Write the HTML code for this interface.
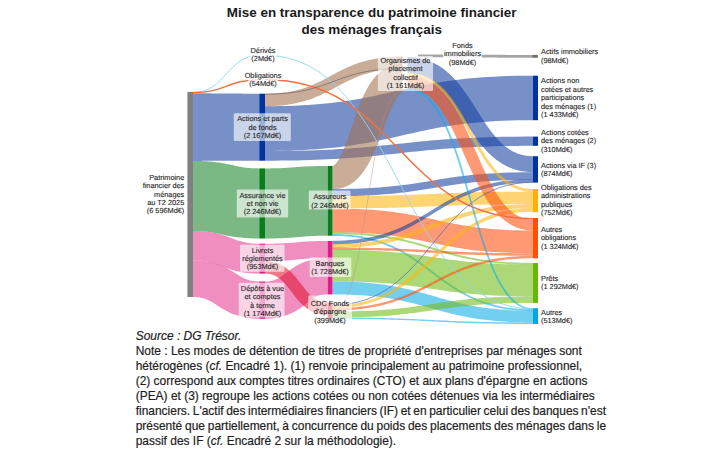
<!DOCTYPE html><html><head><meta charset="utf-8"><style>
html,body{margin:0;padding:0;background:#fff;width:727px;height:454px;overflow:hidden}
body{position:relative;font-family:"Liberation Sans",sans-serif}
.t{position:absolute;left:0;top:0;width:727px;text-align:center;font-weight:bold;font-size:13.45px;color:#1a1a1a;line-height:16.9px}
.note{position:absolute;left:135.7px;top:0;font-size:11.96px;line-height:15px;color:#1e1e1e;white-space:nowrap;-webkit-text-stroke:0.2px #1e1e1e}
svg{position:absolute;left:0;top:0}
svg text{text-rendering:geometricPrecision}
</style></head><body>
<svg width="727" height="454" viewBox="0 0 727 454">
<path d="M193.00,160.90 L195.05,160.89 L197.01,160.89 L198.89,160.88 L200.70,160.88 L202.43,160.87 L204.09,160.87 L205.69,160.86 L207.23,160.86 L208.71,160.85 L210.13,160.85 L211.50,160.84 L212.83,160.84 L214.11,160.84 L215.35,160.83 L216.56,160.83 L217.73,160.83 L218.88,160.82 L220.00,160.82 L221.10,160.82 L222.18,160.81 L223.25,160.81 L224.30,160.81 L225.35,160.80 L226.40,160.80 L227.45,160.80 L228.50,160.79 L229.56,160.79 L230.63,160.79 L231.72,160.78 L232.82,160.78 L233.95,160.78 L235.10,160.77 L236.29,160.77 L237.50,160.77 L238.76,160.76 L240.05,160.76 L241.39,160.76 L242.77,160.75 L244.20,160.75 L245.69,160.74 L247.24,160.74 L248.85,160.73 L250.52,160.73 L252.27,160.72 L254.08,160.72 L255.97,160.71 L257.95,160.71 L260.00,160.70 L260.00,93.70 L257.95,93.69 L255.99,93.69 L254.11,93.68 L252.30,93.67 L250.57,93.67 L248.90,93.66 L247.31,93.65 L245.77,93.64 L244.29,93.63 L242.87,93.63 L241.50,93.62 L240.17,93.61 L238.89,93.60 L237.65,93.59 L236.44,93.58 L235.27,93.57 L234.12,93.57 L233.00,93.56 L231.90,93.55 L230.82,93.54 L229.75,93.53 L228.70,93.52 L227.65,93.51 L226.60,93.50 L225.55,93.49 L224.50,93.48 L223.44,93.47 L222.37,93.46 L221.28,93.45 L220.18,93.44 L219.05,93.44 L217.90,93.43 L216.71,93.42 L215.50,93.41 L214.24,93.40 L212.95,93.39 L211.61,93.38 L210.23,93.37 L208.80,93.37 L207.31,93.36 L205.76,93.35 L204.15,93.34 L202.48,93.33 L200.73,93.33 L198.92,93.32 L197.03,93.31 L195.06,93.31 L193.00,93.30Z" fill="#143fa0" fill-opacity="0.58"/>
<path d="M193.00,230.90 L194.72,230.91 L196.33,230.93 L197.86,230.97 L199.29,231.02 L200.65,231.09 L201.92,231.16 L203.12,231.24 L204.25,231.34 L205.31,231.44 L206.32,231.54 L207.28,231.66 L208.20,231.78 L209.08,231.90 L209.94,232.03 L210.77,232.17 L211.60,232.32 L212.43,232.47 L213.26,232.64 L214.10,232.81 L214.97,232.99 L215.87,233.19 L216.80,233.39 L217.78,233.61 L218.80,233.84 L219.87,234.09 L221.00,234.34 L222.18,234.60 L223.42,234.87 L224.72,235.14 L226.08,235.42 L227.50,235.70 L228.97,235.97 L230.50,236.24 L232.08,236.50 L233.72,236.75 L235.41,236.99 L237.16,237.22 L238.96,237.43 L240.80,237.62 L242.71,237.80 L244.66,237.96 L246.67,238.10 L248.74,238.22 L250.86,238.32 L253.05,238.40 L255.30,238.45 L257.61,238.49 L260.00,238.50 L260.00,168.40 L258.29,168.39 L256.67,168.37 L255.14,168.33 L253.71,168.28 L252.36,168.22 L251.08,168.15 L249.89,168.07 L248.76,167.98 L247.69,167.88 L246.68,167.78 L245.72,167.67 L244.80,167.55 L243.92,167.43 L243.07,167.30 L242.23,167.16 L241.40,167.02 L240.58,166.86 L239.74,166.70 L238.90,166.53 L238.03,166.35 L237.13,166.16 L236.20,165.95 L235.22,165.74 L234.20,165.51 L233.13,165.27 L232.00,165.02 L230.82,164.76 L229.58,164.49 L228.28,164.22 L226.92,163.94 L225.50,163.67 L224.03,163.40 L222.50,163.13 L220.91,162.87 L219.27,162.62 L217.58,162.38 L215.84,162.16 L214.04,161.95 L212.19,161.76 L210.29,161.58 L208.34,161.43 L206.33,161.29 L204.26,161.17 L202.14,161.07 L199.95,161.00 L197.70,160.94 L195.39,160.91 L193.00,160.90Z" fill="#19842b" fill-opacity="0.58"/>
<path d="M193.00,260.50 L194.81,260.52 L196.52,260.56 L198.15,260.64 L199.69,260.73 L201.14,260.85 L202.53,260.99 L203.84,261.15 L205.09,261.32 L206.28,261.51 L207.41,261.72 L208.49,261.94 L209.54,262.18 L210.55,262.42 L211.53,262.68 L212.48,262.96 L213.43,263.24 L214.36,263.54 L215.29,263.86 L216.23,264.19 L217.17,264.53 L218.13,264.89 L219.10,265.26 L220.11,265.65 L221.14,266.05 L222.20,266.46 L223.30,266.89 L224.43,267.32 L225.61,267.76 L226.84,268.20 L228.10,268.65 L229.42,269.09 L230.78,269.53 L232.20,269.96 L233.66,270.37 L235.17,270.77 L236.74,271.15 L238.36,271.52 L240.03,271.85 L241.76,272.17 L243.54,272.45 L245.37,272.71 L247.27,272.94 L249.23,273.13 L251.25,273.30 L253.33,273.43 L255.48,273.52 L257.70,273.58 L260.00,273.60 L260.00,243.70 L258.19,243.69 L256.48,243.65 L254.86,243.58 L253.32,243.49 L251.87,243.38 L250.48,243.25 L249.17,243.10 L247.93,242.93 L246.74,242.74 L245.61,242.54 L244.52,242.33 L243.48,242.10 L242.47,241.86 L241.49,241.60 L240.53,241.34 L239.59,241.06 L238.65,240.76 L237.72,240.46 L236.78,240.13 L235.84,239.80 L234.88,239.44 L233.90,239.08 L232.90,238.70 L231.86,238.30 L230.80,237.89 L229.70,237.47 L228.56,237.05 L227.38,236.61 L226.15,236.18 L224.88,235.74 L223.57,235.30 L222.20,234.87 L220.79,234.45 L219.32,234.04 L217.81,233.65 L216.24,233.27 L214.62,232.91 L212.95,232.58 L211.23,232.28 L209.45,232.00 L207.61,231.74 L205.72,231.52 L203.76,231.33 L201.75,231.18 L199.66,231.06 L197.51,230.97 L195.29,230.92 L193.00,230.90Z" fill="#e63c93" fill-opacity="0.58"/>
<path d="M193.00,297.00 L194.55,297.03 L196.01,297.10 L197.36,297.20 L198.62,297.33 L199.80,297.50 L200.90,297.68 L201.93,297.89 L202.90,298.12 L203.81,298.37 L204.68,298.64 L205.52,298.92 L206.32,299.23 L207.11,299.55 L207.89,299.90 L208.67,300.27 L209.45,300.67 L210.24,301.09 L211.05,301.55 L211.89,302.04 L212.75,302.56 L213.64,303.12 L214.58,303.71 L215.55,304.34 L216.57,305.00 L217.64,305.69 L218.76,306.41 L219.93,307.15 L221.17,307.92 L222.46,308.70 L223.83,309.50 L225.26,310.29 L226.76,311.09 L228.33,311.88 L229.97,312.65 L231.69,313.40 L233.47,314.13 L235.33,314.82 L237.25,315.46 L239.24,316.06 L241.30,316.61 L243.42,317.11 L245.60,317.54 L247.85,317.91 L250.15,318.22 L252.52,318.47 L254.95,318.65 L257.44,318.76 L260.00,318.80 L260.00,281.50 L258.46,281.49 L257.01,281.44 L255.67,281.35 L254.41,281.23 L253.24,281.09 L252.15,280.92 L251.13,280.73 L250.17,280.52 L249.25,280.29 L248.39,280.04 L247.56,279.77 L246.75,279.48 L245.96,279.18 L245.18,278.85 L244.40,278.49 L243.61,278.11 L242.81,277.70 L242.00,277.26 L241.16,276.79 L240.29,276.28 L239.38,275.74 L238.44,275.16 L237.46,274.55 L236.43,273.90 L235.36,273.22 L234.23,272.52 L233.04,271.79 L231.80,271.04 L230.49,270.27 L229.12,269.49 L227.69,268.71 L226.18,267.93 L224.61,267.16 L222.96,266.40 L221.24,265.66 L219.46,264.96 L217.60,264.29 L215.68,263.66 L213.69,263.08 L211.64,262.55 L209.52,262.07 L207.35,261.66 L205.11,261.30 L202.81,261.01 L200.45,260.78 L198.03,260.62 L195.55,260.53 L193.00,260.50Z" fill="#e63c93" fill-opacity="0.58"/>
<path d="M265.00,106.20 L269.35,106.15 L273.54,106.00 L277.57,105.77 L281.44,105.44 L285.17,105.03 L288.76,104.53 L292.22,103.96 L295.56,103.31 L298.77,102.60 L301.87,101.82 L304.86,100.98 L307.75,100.08 L310.54,99.14 L313.25,98.14 L315.87,97.11 L318.41,96.04 L320.88,94.94 L323.28,93.82 L325.63,92.68 L327.92,91.52 L330.17,90.35 L332.39,89.18 L334.57,88.01 L336.72,86.85 L338.87,85.69 L341.00,84.54 L343.13,83.42 L345.27,82.31 L347.43,81.22 L349.60,80.16 L351.81,79.13 L354.06,78.13 L356.35,77.17 L358.70,76.24 L361.12,75.35 L363.61,74.51 L366.18,73.71 L368.85,72.96 L371.61,72.26 L374.49,71.62 L377.49,71.04 L380.61,70.53 L383.87,70.08 L387.27,69.70 L390.83,69.40 L394.55,69.18 L398.44,69.05 L402.50,69.00 L402.50,56.50 L398.15,56.55 L393.96,56.70 L389.93,56.93 L386.06,57.26 L382.33,57.67 L378.74,58.17 L375.28,58.74 L371.94,59.39 L368.73,60.10 L365.63,60.88 L362.64,61.72 L359.75,62.62 L356.96,63.56 L354.25,64.56 L351.63,65.59 L349.09,66.66 L346.62,67.76 L344.22,68.88 L341.87,70.02 L339.58,71.18 L337.33,72.35 L335.11,73.52 L332.93,74.69 L330.78,75.85 L328.63,77.01 L326.50,78.16 L324.37,79.28 L322.23,80.39 L320.07,81.48 L317.90,82.54 L315.69,83.57 L313.44,84.57 L311.15,85.53 L308.80,86.46 L306.38,87.35 L303.89,88.19 L301.32,88.99 L298.65,89.74 L295.89,90.44 L293.01,91.08 L290.01,91.66 L286.89,92.17 L283.63,92.62 L280.23,93.00 L276.67,93.30 L272.95,93.52 L269.06,93.65 L265.00,93.70Z" fill="#a3714f" fill-opacity="0.58"/>
<path d="M265.00,151.00 L273.42,150.96 L281.52,150.83 L289.30,150.64 L296.79,150.37 L303.99,150.03 L310.92,149.62 L317.60,149.15 L324.03,148.62 L330.24,148.03 L336.23,147.39 L342.01,146.70 L347.60,145.97 L353.01,145.19 L358.26,144.37 L363.34,143.52 L368.28,142.64 L373.09,141.73 L377.77,140.80 L382.34,139.86 L386.82,138.90 L391.21,137.94 L395.52,136.97 L399.77,136.00 L403.98,135.04 L408.15,134.08 L412.31,133.14 L416.46,132.20 L420.62,131.29 L424.82,130.39 L429.06,129.51 L433.37,128.66 L437.75,127.83 L442.24,127.03 L446.84,126.26 L451.58,125.52 L456.47,124.82 L461.52,124.15 L466.77,123.53 L472.21,122.95 L477.88,122.41 L483.78,121.92 L489.93,121.49 L496.35,121.11 L503.05,120.80 L510.06,120.54 L517.37,120.36 L525.01,120.24 L533.00,120.20 L533.00,75.70 L524.58,75.74 L516.49,75.85 L508.70,76.05 L501.22,76.31 L494.02,76.64 L487.08,77.04 L480.41,77.51 L473.97,78.03 L467.77,78.61 L461.78,79.25 L456.00,79.93 L450.41,80.66 L445.00,81.43 L439.75,82.24 L434.67,83.09 L429.73,83.96 L424.92,84.86 L420.24,85.78 L415.66,86.72 L411.19,87.67 L406.80,88.63 L402.48,89.59 L398.23,90.55 L394.02,91.51 L389.85,92.46 L385.69,93.40 L381.54,94.33 L377.37,95.24 L373.17,96.13 L368.93,97.00 L364.62,97.85 L360.24,98.67 L355.75,99.46 L351.15,100.23 L346.41,100.96 L341.52,101.66 L336.47,102.32 L331.22,102.94 L325.78,103.51 L320.11,104.04 L314.21,104.52 L308.06,104.95 L301.64,105.32 L294.94,105.63 L287.94,105.88 L280.63,106.06 L272.99,106.16 L265.00,106.20Z" fill="#143fa0" fill-opacity="0.58"/>
<path d="M265.00,160.70 L273.23,160.68 L281.12,160.62 L288.69,160.52 L295.96,160.39 L302.94,160.23 L309.64,160.04 L316.08,159.82 L322.28,159.57 L328.24,159.30 L333.98,159.00 L339.52,158.68 L344.88,158.34 L350.05,157.98 L355.07,157.60 L359.94,157.21 L364.67,156.80 L369.29,156.38 L373.81,155.95 L378.23,155.51 L382.58,155.06 L386.87,154.61 L391.11,154.15 L395.32,153.68 L399.51,153.22 L403.70,152.76 L407.90,152.30 L412.12,151.84 L416.39,151.39 L420.71,150.94 L425.10,150.51 L429.57,150.08 L434.15,149.66 L438.84,149.26 L443.66,148.87 L448.62,148.50 L453.74,148.14 L459.04,147.80 L464.52,147.49 L470.21,147.19 L476.12,146.92 L482.26,146.68 L488.65,146.46 L495.30,146.27 L502.23,146.11 L509.45,145.98 L516.97,145.88 L524.82,145.82 L533.00,145.80 L533.00,136.60 L524.78,136.61 L516.88,136.66 L509.31,136.75 L502.05,136.87 L495.07,137.02 L488.37,137.20 L481.93,137.41 L475.73,137.65 L469.77,137.91 L464.02,138.20 L458.48,138.51 L453.13,138.84 L447.96,139.19 L442.94,139.55 L438.07,139.94 L433.33,140.33 L428.71,140.74 L424.20,141.16 L419.77,141.59 L415.42,142.03 L411.13,142.48 L406.89,142.92 L402.68,143.38 L398.49,143.83 L394.30,144.28 L390.10,144.73 L385.87,145.18 L381.61,145.62 L377.29,146.05 L372.89,146.48 L368.42,146.90 L363.84,147.30 L359.15,147.70 L354.34,148.08 L349.37,148.44 L344.25,148.78 L338.95,149.11 L333.47,149.42 L327.78,149.70 L321.87,149.96 L315.73,150.20 L309.34,150.40 L302.69,150.58 L295.77,150.73 L288.55,150.85 L281.03,150.94 L273.18,150.99 L265.00,151.00Z" fill="#143fa0" fill-opacity="0.58"/>
<path d="M265.00,238.50 L267.04,238.49 L269.01,238.48 L270.91,238.46 L272.74,238.43 L274.51,238.39 L276.22,238.35 L277.87,238.31 L279.47,238.26 L281.01,238.20 L282.51,238.14 L283.95,238.07 L285.35,238.00 L286.71,237.93 L288.03,237.85 L289.30,237.77 L290.54,237.68 L291.74,237.60 L292.90,237.51 L294.03,237.42 L295.13,237.33 L296.20,237.24 L297.24,237.15 L298.25,237.07 L299.24,236.98 L300.21,236.90 L301.16,236.81 L302.10,236.73 L303.04,236.65 L303.97,236.58 L304.90,236.50 L305.84,236.43 L306.79,236.36 L307.76,236.30 L308.75,236.23 L309.77,236.17 L310.82,236.11 L311.91,236.06 L313.04,236.00 L314.23,235.95 L315.46,235.91 L316.75,235.87 L318.10,235.83 L319.52,235.79 L321.00,235.76 L322.56,235.74 L324.19,235.72 L325.90,235.71 L327.70,235.70 L327.70,166.00 L325.66,166.00 L323.69,166.01 L321.79,166.02 L319.96,166.04 L318.19,166.06 L316.48,166.10 L314.83,166.13 L313.24,166.18 L311.69,166.23 L310.20,166.28 L308.75,166.34 L307.35,166.40 L305.99,166.47 L304.68,166.54 L303.40,166.61 L302.17,166.68 L300.97,166.76 L299.80,166.84 L298.67,166.92 L297.57,167.00 L296.51,167.08 L295.47,167.16 L294.45,167.24 L293.46,167.32 L292.49,167.40 L291.54,167.47 L290.59,167.54 L289.66,167.61 L288.73,167.68 L287.80,167.75 L286.86,167.81 L285.91,167.87 L284.94,167.93 L283.95,167.98 L282.93,168.04 L281.87,168.09 L280.78,168.13 L279.65,168.18 L278.47,168.22 L277.24,168.26 L275.95,168.29 L274.60,168.32 L273.18,168.35 L271.70,168.37 L270.14,168.39 L268.51,168.40 L266.80,168.40 L265.00,168.40Z" fill="#19842b" fill-opacity="0.58"/>
<path d="M265.00,261.20 L266.95,261.19 L268.83,261.17 L270.64,261.15 L272.37,261.12 L274.04,261.08 L275.64,261.04 L277.18,260.99 L278.67,260.93 L280.10,260.87 L281.48,260.81 L282.81,260.74 L284.10,260.66 L285.35,260.58 L286.56,260.50 L287.73,260.42 L288.87,260.33 L289.98,260.24 L291.07,260.14 L292.12,260.05 L293.16,259.95 L294.18,259.86 L295.18,259.76 L296.18,259.66 L297.16,259.56 L298.14,259.47 L299.11,259.37 L300.09,259.27 L301.07,259.18 L302.06,259.09 L303.06,259.00 L304.08,258.91 L305.12,258.82 L306.19,258.74 L307.28,258.66 L308.41,258.58 L309.57,258.51 L310.77,258.44 L312.02,258.37 L313.31,258.31 L314.66,258.25 L316.06,258.20 L317.52,258.16 L319.04,258.11 L320.62,258.08 L322.28,258.05 L324.01,258.03 L325.81,258.01 L327.70,258.00 L327.70,241.00 L325.75,241.00 L323.87,241.00 L322.07,241.02 L320.33,241.04 L318.67,241.07 L317.07,241.10 L315.52,241.14 L314.04,241.18 L312.61,241.23 L311.23,241.29 L309.89,241.35 L308.60,241.41 L307.36,241.48 L306.15,241.55 L304.97,241.63 L303.83,241.71 L302.72,241.79 L301.64,241.87 L300.58,241.95 L299.54,242.04 L298.52,242.13 L297.52,242.21 L296.53,242.30 L295.54,242.39 L294.56,242.47 L293.59,242.56 L292.61,242.65 L291.63,242.73 L290.64,242.81 L289.63,242.89 L288.61,242.97 L287.57,243.04 L286.51,243.12 L285.41,243.19 L284.29,243.25 L283.12,243.32 L281.92,243.37 L280.68,243.43 L279.38,243.48 L278.04,243.53 L276.64,243.57 L275.18,243.61 L273.66,243.64 L272.07,243.66 L270.42,243.68 L268.69,243.70 L266.88,243.70 L265.00,243.70Z" fill="#e63c93" fill-opacity="0.58"/>
<path d="M265.00,318.80 L267.52,318.75 L269.99,318.62 L272.40,318.41 L274.76,318.12 L277.06,317.75 L279.30,317.30 L281.48,316.79 L283.59,316.20 L285.63,315.55 L287.61,314.83 L289.51,314.07 L291.34,313.26 L293.09,312.41 L294.76,311.54 L296.35,310.64 L297.87,309.73 L299.31,308.81 L300.68,307.90 L301.98,306.99 L303.21,306.11 L304.38,305.24 L305.48,304.40 L306.54,303.59 L307.54,302.82 L308.49,302.08 L309.39,301.38 L310.25,300.73 L311.08,300.11 L311.86,299.54 L312.62,299.01 L313.34,298.52 L314.05,298.07 L314.73,297.65 L315.40,297.27 L316.06,296.91 L316.72,296.59 L317.38,296.29 L318.06,296.01 L318.76,295.75 L319.50,295.51 L320.28,295.29 L321.11,295.08 L322.00,294.90 L322.97,294.74 L324.01,294.60 L325.15,294.50 L326.37,294.43 L327.70,294.40 L327.70,258.00 L325.19,258.03 L322.73,258.14 L320.33,258.33 L317.99,258.60 L315.70,258.95 L313.47,259.38 L311.30,259.87 L309.20,260.44 L307.15,261.07 L305.18,261.76 L303.28,262.51 L301.46,263.30 L299.70,264.12 L298.03,264.98 L296.43,265.86 L294.91,266.75 L293.46,267.65 L292.08,268.55 L290.78,269.43 L289.54,270.31 L288.36,271.16 L287.24,271.98 L286.18,272.77 L285.16,273.53 L284.20,274.26 L283.29,274.94 L282.41,275.58 L281.58,276.18 L280.78,276.73 L280.02,277.25 L279.28,277.72 L278.57,278.16 L277.89,278.55 L277.21,278.92 L276.55,279.25 L275.89,279.56 L275.23,279.84 L274.55,280.10 L273.85,280.33 L273.12,280.55 L272.34,280.76 L271.52,280.94 L270.64,281.10 L269.68,281.24 L268.65,281.35 L267.53,281.44 L266.31,281.49 L265.00,281.50Z" fill="#e63c93" fill-opacity="0.58"/>
<path d="M265.00,273.60 L266.57,273.64 L268.06,273.77 L269.46,273.97 L270.79,274.24 L272.05,274.59 L273.26,274.99 L274.43,275.46 L275.55,275.99 L276.64,276.58 L277.71,277.23 L278.75,277.95 L279.77,278.72 L280.78,279.55 L281.77,280.44 L282.75,281.38 L283.72,282.37 L284.69,283.42 L285.65,284.51 L286.61,285.64 L287.56,286.82 L288.51,288.02 L289.47,289.26 L290.44,290.52 L291.41,291.80 L292.40,293.10 L293.40,294.41 L294.42,295.72 L295.47,297.05 L296.54,298.36 L297.65,299.68 L298.79,300.98 L299.98,302.26 L301.21,303.52 L302.50,304.75 L303.84,305.95 L305.24,307.11 L306.71,308.22 L308.25,309.27 L309.86,310.26 L311.54,311.17 L313.31,312.00 L315.15,312.74 L317.06,313.38 L319.05,313.92 L321.11,314.34 L323.24,314.65 L325.43,314.84 L327.70,314.90 L327.70,302.50 L326.13,302.46 L324.64,302.33 L323.24,302.13 L321.91,301.86 L320.65,301.51 L319.44,301.11 L318.27,300.64 L317.15,300.11 L316.06,299.52 L314.99,298.87 L313.95,298.15 L312.93,297.38 L311.92,296.55 L310.93,295.66 L309.95,294.72 L308.98,293.73 L308.01,292.68 L307.05,291.59 L306.09,290.46 L305.14,289.28 L304.19,288.08 L303.23,286.84 L302.26,285.58 L301.29,284.30 L300.30,283.00 L299.30,281.69 L298.28,280.38 L297.23,279.05 L296.16,277.74 L295.05,276.42 L293.91,275.12 L292.72,273.84 L291.49,272.58 L290.20,271.35 L288.86,270.15 L287.46,268.99 L285.99,267.88 L284.45,266.83 L282.84,265.84 L281.16,264.93 L279.39,264.10 L277.55,263.36 L275.64,262.72 L273.65,262.18 L271.59,261.76 L269.46,261.45 L267.27,261.26 L265.00,261.20Z" fill="#e0102c" fill-opacity="0.56"/>
<path d="M332.50,189.00 L336.05,189.00 L339.56,188.58 L342.96,187.74 L346.20,186.54 L349.24,185.01 L352.07,183.22 L354.70,181.20 L357.12,179.02 L359.37,176.68 L361.47,174.22 L363.43,171.65 L365.27,168.98 L367.00,166.23 L368.64,163.40 L370.21,160.50 L371.70,157.54 L373.13,154.53 L374.50,151.48 L375.82,148.39 L377.10,145.29 L378.34,142.16 L379.55,139.04 L380.73,135.91 L381.89,132.81 L383.02,129.73 L384.13,126.70 L385.24,123.71 L386.32,120.79 L387.41,117.94 L388.48,115.18 L389.55,112.51 L390.61,109.97 L391.67,107.55 L392.72,105.27 L393.76,103.15 L394.78,101.21 L395.78,99.44 L396.75,97.88 L397.68,96.52 L398.54,95.38 L399.32,94.45 L400.00,93.73 L400.57,93.19 L401.03,92.81 L401.39,92.53 L401.71,92.31 L402.05,92.14 L402.50,92.00 L402.50,64.00 L398.66,64.12 L394.90,64.70 L391.27,65.71 L387.85,67.11 L384.68,68.83 L381.76,70.82 L379.09,73.01 L376.65,75.36 L374.41,77.84 L372.34,80.43 L370.43,83.12 L368.66,85.89 L366.99,88.73 L365.42,91.64 L363.94,94.61 L362.54,97.63 L361.20,100.69 L359.92,103.79 L358.69,106.92 L357.51,110.07 L356.36,113.23 L355.25,116.39 L354.17,119.55 L353.11,122.69 L352.08,125.80 L351.06,128.87 L350.06,131.90 L349.07,134.86 L348.08,137.75 L347.10,140.56 L346.13,143.27 L345.15,145.87 L344.18,148.35 L343.22,150.69 L342.25,152.89 L341.30,154.93 L340.35,156.79 L339.43,158.47 L338.54,159.96 L337.69,161.24 L336.90,162.33 L336.17,163.23 L335.51,163.96 L334.92,164.55 L334.38,165.02 L333.84,165.41 L333.24,165.74 L332.50,166.00Z" fill="#a3714f" fill-opacity="0.58"/>
<path d="M332.50,196.20 L338.66,196.18 L344.58,196.12 L350.25,196.03 L355.70,195.89 L360.93,195.72 L365.95,195.51 L370.78,195.27 L375.43,195.00 L379.90,194.70 L384.21,194.37 L388.37,194.02 L392.38,193.64 L396.27,193.24 L400.03,192.82 L403.69,192.38 L407.24,191.93 L410.71,191.46 L414.09,190.98 L417.41,190.49 L420.67,189.99 L423.89,189.49 L427.06,188.98 L430.22,188.46 L433.35,187.95 L436.49,187.44 L439.63,186.92 L442.79,186.42 L445.97,185.92 L449.20,185.42 L452.48,184.94 L455.82,184.47 L459.23,184.00 L462.73,183.56 L466.32,183.13 L470.03,182.72 L473.85,182.33 L477.80,181.95 L481.89,181.61 L486.13,181.28 L490.54,180.99 L495.12,180.72 L499.89,180.48 L504.85,180.28 L510.02,180.11 L515.41,179.97 L521.03,179.88 L526.89,179.82 L533.00,179.80 L533.00,172.20 L526.84,172.23 L520.92,172.29 L515.25,172.40 L509.80,172.54 L504.57,172.73 L499.54,172.94 L494.71,173.19 L490.06,173.47 L485.59,173.78 L481.28,174.12 L477.12,174.48 L473.11,174.86 L469.22,175.27 L465.46,175.70 L461.80,176.14 L458.25,176.60 L454.79,177.08 L451.40,177.57 L448.08,178.07 L444.82,178.57 L441.61,179.09 L438.43,179.61 L435.28,180.13 L432.15,180.65 L429.01,181.17 L425.87,181.69 L422.72,182.21 L419.53,182.72 L416.31,183.22 L413.03,183.71 L409.69,184.19 L406.28,184.66 L402.78,185.12 L399.19,185.55 L395.48,185.97 L391.66,186.37 L387.71,186.75 L383.62,187.11 L379.38,187.44 L374.97,187.74 L370.39,188.02 L365.62,188.27 L360.65,188.48 L355.48,188.66 L350.09,188.80 L344.47,188.91 L338.61,188.97 L332.50,189.00Z" fill="#143fa0" fill-opacity="0.58"/>
<path d="M332.50,208.40 L338.65,208.40 L344.55,208.39 L350.21,208.36 L355.64,208.33 L360.85,208.29 L365.86,208.24 L370.67,208.18 L375.30,208.11 L379.76,208.03 L384.05,207.95 L388.19,207.86 L392.19,207.76 L396.05,207.66 L399.80,207.55 L403.44,207.44 L406.98,207.32 L410.43,207.20 L413.80,207.08 L417.11,206.95 L420.36,206.82 L423.57,206.69 L426.74,206.56 L429.89,206.43 L433.02,206.29 L436.16,206.16 L439.30,206.03 L442.46,205.90 L445.66,205.77 L448.89,205.64 L452.18,205.51 L455.53,205.39 L458.96,205.27 L462.47,205.15 L466.08,205.04 L469.80,204.94 L473.64,204.84 L477.61,204.74 L481.72,204.65 L485.98,204.57 L490.41,204.49 L495.01,204.42 L499.79,204.36 L504.77,204.31 L509.96,204.27 L515.37,204.24 L521.00,204.21 L526.87,204.20 L533.00,204.20 L533.00,191.60 L526.85,191.61 L520.95,191.63 L515.29,191.66 L509.86,191.70 L504.65,191.75 L499.64,191.81 L494.82,191.88 L490.20,191.96 L485.74,192.04 L481.45,192.14 L477.31,192.23 L473.31,192.34 L469.45,192.45 L465.70,192.57 L462.06,192.69 L458.52,192.81 L455.07,192.94 L451.70,193.07 L448.39,193.21 L445.14,193.34 L441.93,193.48 L438.76,193.62 L435.61,193.76 L432.48,193.91 L429.34,194.05 L426.20,194.19 L423.04,194.33 L419.85,194.47 L416.61,194.60 L413.32,194.74 L409.97,194.87 L406.54,195.00 L403.03,195.12 L399.42,195.24 L395.70,195.35 L391.86,195.46 L387.89,195.57 L383.78,195.67 L379.52,195.76 L375.10,195.84 L370.50,195.92 L365.71,195.99 L360.73,196.05 L355.54,196.10 L350.14,196.14 L344.50,196.17 L338.63,196.19 L332.50,196.20Z" fill="#ffb70d" fill-opacity="0.58"/>
<path d="M332.50,232.40 L338.53,232.41 L344.30,232.48 L349.83,232.59 L355.13,232.76 L360.21,232.96 L365.07,233.21 L369.74,233.51 L374.22,233.84 L378.53,234.20 L382.67,234.60 L386.66,235.03 L390.51,235.49 L394.24,235.97 L397.85,236.48 L401.35,237.02 L404.77,237.57 L408.11,238.14 L411.38,238.74 L414.60,239.34 L417.77,239.96 L420.92,240.59 L424.05,241.24 L427.18,241.89 L430.31,242.54 L433.45,243.20 L436.63,243.86 L439.84,244.52 L443.09,245.17 L446.41,245.82 L449.79,246.46 L453.25,247.08 L456.79,247.69 L460.43,248.28 L464.17,248.86 L468.03,249.40 L472.01,249.92 L476.13,250.41 L480.38,250.87 L484.79,251.30 L489.36,251.69 L494.11,252.03 L499.03,252.34 L504.15,252.61 L509.47,252.83 L515.01,253.00 L520.77,253.12 L526.76,253.19 L533.00,253.20 L533.00,230.60 L526.97,230.56 L521.19,230.46 L515.65,230.32 L510.35,230.13 L505.27,229.89 L500.40,229.61 L495.72,229.29 L491.24,228.93 L486.93,228.53 L482.79,228.11 L478.79,227.65 L474.94,227.16 L471.22,226.64 L467.61,226.10 L464.10,225.54 L460.69,224.96 L457.36,224.36 L454.09,223.74 L450.87,223.10 L447.70,222.45 L444.56,221.79 L441.43,221.12 L438.32,220.44 L435.19,219.76 L432.05,219.07 L428.89,218.38 L425.68,217.70 L422.43,217.01 L419.12,216.34 L415.74,215.67 L412.29,215.02 L408.75,214.38 L405.11,213.76 L401.37,213.16 L397.51,212.58 L393.53,212.03 L389.42,211.51 L385.16,211.02 L380.75,210.57 L376.18,210.15 L371.43,209.77 L366.50,209.43 L361.38,209.14 L356.05,208.89 L350.51,208.69 L344.75,208.54 L338.75,208.44 L332.50,208.40Z" fill="#ff500d" fill-opacity="0.58"/>
<path d="M332.50,234.20 L338.62,234.24 L344.50,234.35 L350.13,234.54 L355.54,234.80 L360.72,235.12 L365.70,235.51 L370.48,235.95 L375.08,236.46 L379.51,237.01 L383.77,237.62 L387.88,238.27 L391.85,238.96 L395.68,239.69 L399.40,240.46 L403.01,241.27 L406.53,242.10 L409.95,242.96 L413.31,243.85 L416.59,244.75 L419.83,245.67 L423.02,246.60 L426.19,247.55 L429.33,248.50 L432.46,249.46 L435.60,250.41 L438.75,251.37 L441.92,252.32 L445.13,253.25 L448.38,254.18 L451.69,255.09 L455.06,255.98 L458.51,256.84 L462.05,257.68 L465.69,258.49 L469.44,259.27 L473.30,260.01 L477.30,260.71 L481.44,261.36 L485.73,261.97 L490.19,262.53 L494.82,263.04 L499.63,263.49 L504.64,263.87 L509.86,264.20 L515.29,264.46 L520.95,264.65 L526.85,264.76 L533.00,264.80 L533.00,262.90 L526.88,262.86 L521.00,262.74 L515.37,262.55 L509.96,262.29 L504.78,261.97 L499.80,261.58 L495.01,261.13 L490.41,260.63 L485.99,260.07 L481.73,259.46 L477.62,258.81 L473.65,258.11 L469.81,257.38 L466.09,256.61 L462.48,255.80 L458.97,254.96 L455.54,254.10 L452.19,253.22 L448.90,252.31 L445.67,251.39 L442.47,250.45 L439.31,249.50 L436.17,248.55 L433.04,247.59 L429.90,246.63 L426.75,245.68 L423.58,244.73 L420.37,243.79 L417.12,242.86 L413.82,241.95 L410.44,241.06 L406.99,240.19 L403.45,239.35 L399.82,238.54 L396.07,237.76 L392.20,237.02 L388.20,236.32 L384.06,235.66 L379.77,235.05 L375.31,234.49 L370.69,233.98 L365.87,233.53 L360.86,233.14 L355.64,232.81 L350.21,232.55 L344.55,232.36 L338.65,232.24 L332.50,232.20Z" fill="#71bc16" fill-opacity="0.58"/>
<path d="M332.50,235.90 L338.61,236.00 L344.46,236.28 L350.08,236.74 L355.46,237.37 L360.63,238.16 L365.59,239.11 L370.36,240.20 L374.94,241.44 L379.34,242.80 L383.59,244.28 L387.68,245.88 L391.64,247.58 L395.46,249.38 L399.17,251.27 L402.77,253.24 L406.28,255.29 L409.70,257.40 L413.05,259.57 L416.33,261.79 L419.56,264.05 L422.76,266.35 L425.92,268.67 L429.06,271.01 L432.19,273.36 L435.33,275.72 L438.48,278.06 L441.65,280.40 L444.86,282.71 L448.12,284.99 L451.43,287.22 L454.81,289.42 L458.27,291.55 L461.82,293.62 L465.46,295.62 L469.22,297.53 L473.10,299.36 L477.11,301.09 L481.27,302.71 L485.58,304.21 L490.05,305.59 L494.70,306.84 L499.53,307.95 L504.55,308.91 L509.79,309.71 L515.24,310.35 L520.92,310.82 L526.83,311.10 L533.00,311.20 L533.00,309.40 L526.89,309.30 L521.04,309.02 L515.42,308.56 L510.03,307.92 L504.86,307.13 L499.90,306.18 L495.13,305.08 L490.55,303.85 L486.15,302.48 L481.90,301.00 L477.81,299.40 L473.85,297.69 L470.03,295.89 L466.32,294.00 L462.72,292.03 L459.21,289.98 L455.79,287.87 L452.45,285.69 L449.16,283.47 L445.93,281.21 L442.74,278.91 L439.58,276.58 L436.44,274.24 L433.31,271.89 L430.17,269.53 L427.02,267.18 L423.85,264.85 L420.64,262.54 L417.39,260.26 L414.08,258.02 L410.70,255.82 L407.24,253.69 L403.69,251.61 L400.05,249.61 L396.29,247.70 L392.41,245.87 L388.40,244.14 L384.24,242.52 L379.93,241.01 L375.46,239.63 L370.81,238.38 L365.98,237.26 L360.95,236.30 L355.72,235.50 L350.27,234.85 L344.59,234.39 L338.67,234.10 L332.50,234.00Z" fill="#0dace6" fill-opacity="0.58"/>
<path d="M332.50,244.40 L338.68,244.32 L344.62,244.08 L350.32,243.69 L355.79,243.17 L361.04,242.50 L366.09,241.71 L370.94,240.80 L375.61,239.77 L380.10,238.63 L384.43,237.38 L388.61,236.05 L392.64,234.62 L396.54,233.12 L400.31,231.54 L403.98,229.89 L407.54,228.19 L411.01,226.43 L414.40,224.63 L417.72,222.78 L420.99,220.91 L424.20,219.01 L427.38,217.10 L430.53,215.17 L433.67,213.24 L436.80,211.31 L439.94,209.40 L443.09,207.49 L446.27,205.61 L449.50,203.76 L452.77,201.95 L456.10,200.18 L459.51,198.45 L463.00,196.78 L466.58,195.17 L470.27,193.63 L474.07,192.16 L478.01,190.77 L482.08,189.46 L486.31,188.25 L490.70,187.14 L495.26,186.13 L500.00,185.24 L504.95,184.46 L510.10,183.81 L515.47,183.29 L521.07,182.91 L526.91,182.68 L533.00,182.60 L533.00,179.20 L526.82,179.28 L520.89,179.51 L515.19,179.89 L509.72,180.42 L504.47,181.08 L499.42,181.86 L494.57,182.77 L489.91,183.80 L485.41,184.93 L481.09,186.17 L476.91,187.50 L472.88,188.92 L468.98,190.42 L465.20,192.00 L461.54,193.64 L457.98,195.34 L454.50,197.10 L451.11,198.90 L447.79,200.73 L444.52,202.60 L441.30,204.50 L438.12,206.41 L434.97,208.33 L431.83,210.26 L428.70,212.18 L425.56,214.10 L422.40,216.00 L419.22,217.87 L415.99,219.72 L412.72,221.53 L409.39,223.30 L405.98,225.02 L402.49,226.69 L398.90,228.29 L395.22,229.83 L391.41,231.29 L387.47,232.68 L383.40,233.98 L379.18,235.19 L374.79,236.29 L370.23,237.30 L365.48,238.19 L360.54,238.96 L355.39,239.61 L350.02,240.12 L344.43,240.49 L338.59,240.72 L332.50,240.80Z" fill="#143fa0" fill-opacity="0.58"/>
<path d="M332.50,248.00 L338.67,247.95 L344.59,247.80 L350.28,247.56 L355.73,247.22 L360.97,246.80 L366.01,246.29 L370.85,245.71 L375.50,245.05 L379.98,244.33 L384.30,243.53 L388.47,242.68 L392.49,241.77 L396.38,240.80 L400.15,239.79 L403.81,238.74 L407.37,237.65 L410.84,236.52 L414.23,235.36 L417.56,234.18 L420.82,232.98 L424.03,231.76 L427.21,230.53 L430.37,229.29 L433.50,228.06 L436.64,226.82 L439.78,225.59 L442.93,224.37 L446.12,223.16 L449.34,221.97 L452.62,220.81 L455.96,219.67 L459.36,218.56 L462.86,217.49 L466.45,216.46 L470.14,215.47 L473.96,214.52 L477.90,213.63 L481.98,212.79 L486.22,212.01 L490.61,211.30 L495.19,210.65 L499.94,210.08 L504.90,209.58 L510.06,209.17 L515.44,208.84 L521.05,208.60 L526.90,208.45 L533.00,208.40 L533.00,204.20 L526.83,204.25 L520.90,204.41 L515.22,204.65 L509.76,204.99 L504.52,205.42 L499.48,205.93 L494.64,206.52 L489.99,207.18 L485.51,207.91 L481.19,208.71 L477.02,209.57 L473.00,210.48 L469.11,211.45 L465.33,212.47 L461.68,213.53 L458.12,214.62 L454.65,215.75 L451.26,216.91 L447.94,218.10 L444.68,219.31 L441.46,220.53 L438.28,221.76 L435.13,223.00 L432.00,224.24 L428.86,225.48 L425.73,226.72 L422.57,227.94 L419.39,229.15 L416.16,230.35 L412.89,231.52 L409.55,232.66 L406.15,233.77 L402.65,234.85 L399.06,235.88 L395.37,236.88 L391.56,237.83 L387.61,238.72 L383.53,239.57 L379.29,240.35 L374.90,241.07 L370.32,241.72 L365.56,242.29 L360.61,242.80 L355.45,243.22 L350.07,243.55 L344.45,243.80 L338.60,243.95 L332.50,244.00Z" fill="#ffb70d" fill-opacity="0.58"/>
<path d="M332.50,249.90 L338.63,249.91 L344.52,249.94 L350.16,249.97 L355.58,250.03 L360.78,250.09 L365.77,250.17 L370.56,250.25 L375.17,250.35 L379.61,250.46 L383.88,250.58 L388.00,250.70 L391.98,250.84 L395.83,250.98 L399.56,251.12 L403.18,251.28 L406.70,251.44 L410.14,251.60 L413.50,251.77 L416.80,251.95 L420.04,252.12 L423.24,252.30 L426.40,252.48 L429.55,252.67 L432.68,252.85 L435.81,253.03 L438.96,253.21 L442.13,253.39 L445.33,253.57 L448.58,253.75 L451.88,253.92 L455.24,254.09 L458.68,254.26 L462.21,254.42 L465.84,254.57 L469.58,254.72 L473.43,254.86 L477.42,255.00 L481.55,255.12 L485.83,255.24 L490.27,255.35 L494.89,255.45 L499.69,255.53 L504.69,255.61 L509.90,255.67 L515.32,255.73 L520.97,255.76 L526.86,255.79 L533.00,255.80 L533.00,253.20 L526.87,253.20 L520.98,253.18 L515.34,253.14 L509.92,253.10 L504.73,253.04 L499.73,252.97 L494.94,252.89 L490.33,252.80 L485.89,252.70 L481.62,252.59 L477.50,252.47 L473.52,252.34 L469.67,252.20 L465.94,252.06 L462.32,251.91 L458.80,251.76 L455.36,251.60 L452.00,251.44 L448.71,251.27 L445.46,251.10 L442.27,250.93 L439.10,250.75 L435.95,250.58 L432.82,250.40 L429.69,250.23 L426.54,250.05 L423.37,249.87 L420.17,249.70 L416.92,249.53 L413.62,249.36 L410.26,249.20 L406.81,249.04 L403.28,248.89 L399.66,248.74 L395.92,248.60 L392.06,248.46 L388.08,248.33 L383.95,248.21 L379.67,248.10 L375.22,248.00 L370.61,247.91 L365.80,247.83 L360.81,247.76 L355.60,247.70 L350.18,247.66 L344.53,247.62 L338.64,247.60 L332.50,247.60Z" fill="#ff500d" fill-opacity="0.58"/>
<path d="M332.50,281.40 L338.54,281.42 L344.32,281.48 L349.86,281.57 L355.17,281.69 L360.26,281.85 L365.14,282.03 L369.81,282.25 L374.31,282.49 L378.62,282.75 L382.77,283.04 L386.77,283.35 L390.63,283.68 L394.36,284.02 L397.98,284.39 L401.49,284.77 L404.91,285.16 L408.25,285.57 L411.52,285.99 L414.74,286.42 L417.92,286.86 L421.07,287.30 L424.19,287.76 L427.32,288.22 L430.44,288.68 L433.58,289.15 L436.75,289.61 L439.96,290.08 L443.21,290.54 L446.52,291.00 L449.90,291.45 L453.35,291.89 L456.89,292.32 L460.52,292.74 L464.26,293.14 L468.11,293.53 L472.08,293.90 L476.19,294.25 L480.44,294.58 L484.84,294.88 L489.40,295.16 L494.14,295.41 L499.06,295.64 L504.17,295.83 L509.49,295.99 L515.02,296.12 L520.77,296.22 L526.76,296.28 L533.00,296.30 L533.00,264.60 L526.96,264.58 L521.18,264.53 L515.64,264.44 L510.33,264.32 L505.24,264.17 L500.37,263.99 L495.69,263.78 L491.20,263.55 L486.88,263.29 L482.73,263.00 L478.73,262.70 L474.87,262.37 L471.14,262.03 L467.53,261.67 L464.02,261.30 L460.60,260.91 L457.26,260.50 L453.98,260.09 L450.76,259.66 L447.58,259.23 L444.44,258.78 L441.31,258.33 L438.18,257.88 L435.06,257.42 L431.91,256.96 L428.75,256.50 L425.54,256.04 L422.29,255.58 L418.98,255.12 L415.60,254.68 L412.15,254.24 L408.61,253.81 L404.98,253.40 L401.24,253.00 L397.39,252.61 L393.42,252.25 L389.31,251.90 L385.06,251.58 L380.66,251.28 L376.09,251.00 L371.36,250.76 L366.44,250.54 L361.32,250.35 L356.01,250.19 L350.48,250.06 L344.73,249.97 L338.74,249.92 L332.50,249.90Z" fill="#71bc16" fill-opacity="0.58"/>
<path d="M332.50,294.40 L338.56,294.42 L344.36,294.51 L349.93,294.67 L355.26,294.90 L360.37,295.18 L365.27,295.53 L369.98,295.92 L374.50,296.37 L378.85,296.87 L383.03,297.41 L387.06,297.99 L390.95,298.62 L394.72,299.28 L398.36,299.97 L401.91,300.70 L405.36,301.45 L408.73,302.23 L412.03,303.03 L415.28,303.85 L418.48,304.69 L421.65,305.54 L424.79,306.41 L427.92,307.28 L431.06,308.16 L434.20,309.05 L437.37,309.93 L440.56,310.81 L443.80,311.68 L447.10,312.55 L450.45,313.40 L453.88,314.23 L457.39,315.04 L461.00,315.83 L464.70,316.59 L468.52,317.31 L472.47,318.00 L476.54,318.66 L480.75,319.27 L485.12,319.84 L489.65,320.36 L494.36,320.82 L499.24,321.24 L504.32,321.59 L509.61,321.89 L515.11,322.12 L520.83,322.28 L526.79,322.38 L533.00,322.40 L533.00,310.80 L526.93,310.75 L521.12,310.63 L515.55,310.44 L510.21,310.18 L505.09,309.87 L500.18,309.50 L495.47,309.07 L490.95,308.59 L486.60,308.07 L482.41,307.49 L478.38,306.88 L474.49,306.23 L470.72,305.54 L467.08,304.81 L463.54,304.06 L460.09,303.28 L456.72,302.47 L453.42,301.64 L450.18,300.79 L446.99,299.92 L443.83,299.04 L440.69,298.15 L437.57,297.25 L434.44,296.34 L431.31,295.43 L428.15,294.51 L424.96,293.61 L421.73,292.70 L418.44,291.81 L415.09,290.93 L411.67,290.07 L408.16,289.23 L404.56,288.42 L400.85,287.63 L397.04,286.87 L393.09,286.15 L389.02,285.47 L384.80,284.83 L380.43,284.23 L375.90,283.68 L371.19,283.18 L366.30,282.74 L361.21,282.36 L355.92,282.03 L350.42,281.77 L344.68,281.58 L338.72,281.45 L332.50,281.40Z" fill="#0dace6" fill-opacity="0.58"/>
<path d="M332.50,308.20 L338.70,308.08 L344.65,307.72 L350.36,307.12 L355.84,306.30 L361.11,305.27 L366.18,304.03 L371.04,302.61 L375.72,301.00 L380.23,299.22 L384.57,297.28 L388.75,295.19 L392.79,292.96 L396.70,290.61 L400.48,288.14 L404.15,285.57 L407.72,282.91 L411.19,280.16 L414.59,277.34 L417.91,274.46 L421.18,271.54 L424.40,268.57 L427.58,265.57 L430.74,262.56 L433.88,259.54 L437.02,256.53 L440.16,253.53 L443.32,250.55 L446.51,247.61 L449.74,244.72 L453.02,241.88 L456.36,239.11 L459.77,236.42 L463.26,233.81 L466.85,231.29 L470.53,228.89 L474.33,226.60 L478.26,224.44 L482.33,222.41 L486.54,220.53 L490.91,218.80 L495.45,217.24 L500.17,215.85 L505.09,214.65 L510.21,213.65 L515.55,212.85 L521.13,212.27 L526.94,211.92 L533.00,211.80 L533.00,208.20 L526.79,208.33 L520.83,208.71 L515.10,209.32 L509.61,210.16 L504.33,211.21 L499.26,212.46 L494.38,213.91 L489.69,215.53 L485.19,217.33 L480.84,219.29 L476.66,221.39 L472.62,223.64 L468.72,226.00 L464.94,228.49 L461.27,231.07 L457.71,233.75 L454.24,236.51 L450.86,239.34 L447.54,242.23 L444.28,245.17 L441.07,248.15 L437.90,251.15 L434.75,254.18 L431.62,257.21 L428.49,260.23 L425.36,263.24 L422.21,266.23 L419.03,269.18 L415.81,272.08 L412.54,274.93 L409.21,277.72 L405.80,280.43 L402.32,283.05 L398.74,285.58 L395.05,288.00 L391.25,290.30 L387.33,292.48 L383.26,294.53 L379.05,296.43 L374.67,298.17 L370.13,299.75 L365.40,301.15 L360.47,302.37 L355.34,303.39 L349.98,304.20 L344.40,304.80 L338.58,305.17 L332.50,305.30Z" fill="#ffb70d" fill-opacity="0.58"/>
<path d="M332.50,310.60 L338.66,310.53 L344.58,310.34 L350.25,310.01 L355.70,309.57 L360.93,309.01 L365.96,308.34 L370.79,307.57 L375.44,306.71 L379.91,305.75 L384.22,304.70 L388.37,303.58 L392.39,302.38 L396.27,301.11 L400.03,299.78 L403.68,298.39 L407.23,296.95 L410.69,295.47 L414.07,293.94 L417.39,292.39 L420.64,290.80 L423.85,289.20 L427.03,287.58 L430.18,285.95 L433.32,284.31 L436.45,282.68 L439.59,281.05 L442.75,279.44 L445.94,277.84 L449.17,276.27 L452.45,274.73 L455.80,273.23 L459.22,271.76 L462.72,270.34 L466.32,268.97 L470.02,267.66 L473.85,266.41 L477.80,265.23 L481.89,264.12 L486.14,263.09 L490.55,262.15 L495.13,261.29 L499.89,260.53 L504.86,259.87 L510.03,259.32 L515.42,258.88 L521.03,258.56 L526.89,258.37 L533.00,258.30 L533.00,255.80 L526.84,255.87 L520.92,256.07 L515.24,256.39 L509.79,256.84 L504.56,257.40 L499.53,258.07 L494.70,258.84 L490.06,259.71 L485.58,260.67 L481.28,261.72 L477.12,262.85 L473.11,264.05 L469.23,265.32 L465.46,266.65 L461.82,268.04 L458.27,269.48 L454.80,270.97 L451.42,272.50 L448.11,274.05 L444.85,275.64 L441.64,277.25 L438.47,278.87 L435.32,280.50 L432.18,282.14 L429.05,283.77 L425.91,285.40 L422.75,287.02 L419.56,288.61 L416.33,290.19 L413.05,291.73 L409.71,293.24 L406.29,294.71 L402.79,296.13 L399.19,297.50 L395.48,298.81 L391.66,300.06 L387.71,301.25 L383.61,302.36 L379.37,303.39 L374.96,304.34 L370.38,305.20 L365.61,305.96 L360.65,306.62 L355.48,307.17 L350.09,307.61 L344.47,307.93 L338.61,308.13 L332.50,308.20Z" fill="#ff500d" fill-opacity="0.58"/>
<path d="M332.50,317.60 L338.66,317.59 L344.56,317.54 L350.23,317.45 L355.67,317.33 L360.90,317.18 L365.91,316.99 L370.74,316.78 L375.37,316.53 L379.84,316.27 L384.14,315.97 L388.29,315.66 L392.30,315.32 L396.18,314.96 L399.93,314.59 L403.58,314.20 L407.13,313.79 L410.59,313.37 L413.97,312.94 L417.28,312.50 L420.54,312.05 L423.75,311.60 L426.93,311.14 L430.08,310.68 L433.22,310.22 L436.35,309.75 L439.49,309.29 L442.65,308.84 L445.84,308.39 L449.07,307.94 L452.36,307.51 L455.70,307.08 L459.12,306.67 L462.63,306.27 L466.23,305.88 L469.94,305.51 L473.76,305.16 L477.72,304.82 L481.82,304.51 L486.07,304.22 L490.49,303.96 L495.08,303.72 L499.85,303.50 L504.82,303.32 L510.00,303.17 L515.39,303.05 L521.02,302.96 L526.88,302.91 L533.00,302.90 L533.00,296.30 L526.84,296.33 L520.93,296.39 L515.26,296.49 L509.82,296.62 L504.60,296.79 L499.58,296.98 L494.75,297.21 L490.11,297.47 L485.65,297.75 L481.35,298.05 L477.20,298.38 L473.19,298.73 L469.31,299.10 L465.55,299.49 L461.91,299.89 L458.36,300.31 L454.90,300.74 L451.52,301.19 L448.21,301.64 L444.95,302.10 L441.74,302.57 L438.57,303.04 L435.42,303.51 L432.28,303.98 L429.15,304.46 L426.01,304.93 L422.85,305.40 L419.66,305.86 L416.44,306.32 L413.15,306.77 L409.81,307.21 L406.39,307.63 L402.89,308.05 L399.29,308.45 L395.58,308.83 L391.75,309.19 L387.79,309.54 L383.69,309.86 L379.44,310.17 L375.02,310.44 L370.43,310.70 L365.66,310.92 L360.69,311.12 L355.51,311.28 L350.11,311.41 L344.48,311.51 L338.62,311.57 L332.50,311.60Z" fill="#71bc16" fill-opacity="0.58"/>
<path d="M332.50,318.80 L338.64,318.81 L344.52,318.83 L350.17,318.87 L355.58,318.92 L360.78,318.97 L365.78,319.04 L370.57,319.12 L375.19,319.20 L379.63,319.30 L383.90,319.40 L388.02,319.51 L392.00,319.63 L395.85,319.76 L399.59,319.89 L403.21,320.02 L406.73,320.16 L410.17,320.31 L413.53,320.46 L416.83,320.61 L420.07,320.76 L423.27,320.92 L426.44,321.08 L429.58,321.24 L432.72,321.40 L435.85,321.56 L439.00,321.72 L442.16,321.88 L445.36,322.04 L448.61,322.19 L451.91,322.34 L455.27,322.49 L458.71,322.64 L462.24,322.78 L465.87,322.91 L469.60,323.04 L473.45,323.17 L477.44,323.29 L481.57,323.40 L485.84,323.50 L490.29,323.60 L494.90,323.68 L499.70,323.76 L504.70,323.83 L509.90,323.88 L515.32,323.93 L520.97,323.97 L526.86,323.99 L533.00,324.00 L533.00,322.40 L526.86,322.40 L520.98,322.38 L515.33,322.36 L509.92,322.32 L504.72,322.27 L499.72,322.21 L494.93,322.14 L490.32,322.06 L485.88,321.98 L481.60,321.88 L477.48,321.78 L473.50,321.67 L469.65,321.55 L465.92,321.43 L462.29,321.30 L458.77,321.17 L455.33,321.03 L451.97,320.89 L448.67,320.75 L445.43,320.60 L442.23,320.45 L439.06,320.30 L435.92,320.15 L432.78,320.00 L429.65,319.85 L426.50,319.70 L423.34,319.55 L420.13,319.40 L416.89,319.25 L413.59,319.11 L410.23,318.97 L406.79,318.83 L403.26,318.70 L399.63,318.57 L395.90,318.45 L392.04,318.33 L388.06,318.22 L383.93,318.12 L379.65,318.02 L375.21,317.94 L370.60,317.86 L365.79,317.79 L360.80,317.73 L355.60,317.68 L350.18,317.64 L344.53,317.62 L338.64,317.60 L332.50,317.60Z" fill="#0dace6" fill-opacity="0.58"/>
<path d="M418.00,57.30 L421.52,57.30 L424.90,57.30 L428.13,57.31 L431.24,57.31 L434.23,57.32 L437.09,57.32 L439.84,57.33 L442.49,57.33 L445.03,57.34 L447.49,57.35 L449.85,57.36 L452.14,57.37 L454.34,57.38 L456.49,57.39 L458.56,57.40 L460.59,57.41 L462.56,57.42 L464.49,57.43 L466.38,57.44 L468.24,57.45 L470.07,57.46 L471.89,57.48 L473.69,57.49 L475.49,57.50 L477.29,57.51 L479.09,57.52 L480.91,57.54 L482.75,57.55 L484.61,57.56 L486.50,57.57 L488.43,57.58 L490.40,57.59 L492.42,57.60 L494.50,57.61 L496.64,57.62 L498.85,57.63 L501.14,57.64 L503.51,57.65 L505.96,57.66 L508.51,57.67 L511.15,57.67 L513.91,57.68 L516.77,57.68 L519.75,57.69 L522.86,57.69 L526.10,57.70 L529.48,57.70 L533.00,57.70 L533.00,54.90 L529.48,54.90 L526.10,54.90 L522.87,54.90 L519.76,54.90 L516.77,54.89 L513.91,54.89 L511.16,54.89 L508.51,54.88 L505.97,54.88 L503.51,54.87 L501.15,54.86 L498.86,54.86 L496.66,54.85 L494.51,54.84 L492.44,54.83 L490.41,54.83 L488.44,54.82 L486.51,54.81 L484.62,54.80 L482.76,54.79 L480.93,54.78 L479.11,54.77 L477.31,54.76 L475.51,54.75 L473.71,54.74 L471.91,54.73 L470.09,54.72 L468.25,54.71 L466.39,54.70 L464.50,54.69 L462.57,54.68 L460.60,54.67 L458.58,54.67 L456.50,54.66 L454.36,54.65 L452.15,54.64 L449.86,54.64 L447.49,54.63 L445.04,54.62 L442.49,54.62 L439.85,54.61 L437.09,54.61 L434.23,54.61 L431.25,54.60 L428.14,54.60 L424.90,54.60 L421.52,54.60 L418.00,54.60Z" fill="#7f7f7f" fill-opacity="0.7"/>
<path d="M407.50,73.00 L410.80,73.11 L413.94,73.43 L416.92,73.94 L419.76,74.65 L422.48,75.53 L425.10,76.58 L427.62,77.80 L430.07,79.18 L432.45,80.73 L434.77,82.44 L437.04,84.30 L439.25,86.30 L441.42,88.45 L443.55,90.74 L445.65,93.15 L447.71,95.68 L449.73,98.32 L451.74,101.05 L453.72,103.87 L455.68,106.76 L457.64,109.72 L459.59,112.73 L461.53,115.79 L463.49,118.88 L465.46,121.99 L467.45,125.10 L469.46,128.22 L471.52,131.33 L473.61,134.42 L475.76,137.47 L477.97,140.49 L480.24,143.44 L482.60,146.34 L485.04,149.15 L487.59,151.88 L490.24,154.50 L493.01,157.01 L495.90,159.39 L498.94,161.62 L502.12,163.69 L505.45,165.57 L508.93,167.25 L512.56,168.72 L516.35,169.94 L520.30,170.92 L524.39,171.62 L528.62,172.05 L533.00,172.20 L533.00,156.20 L529.70,156.09 L526.56,155.77 L523.58,155.26 L520.74,154.55 L518.02,153.67 L515.40,152.62 L512.88,151.40 L510.43,150.02 L508.05,148.47 L505.73,146.76 L503.46,144.90 L501.25,142.90 L499.08,140.75 L496.95,138.46 L494.85,136.05 L492.79,133.52 L490.77,130.88 L488.76,128.15 L486.78,125.33 L484.82,122.44 L482.86,119.48 L480.91,116.47 L478.97,113.41 L477.01,110.32 L475.04,107.21 L473.05,104.10 L471.04,100.98 L468.98,97.87 L466.89,94.78 L464.74,91.73 L462.53,88.71 L460.26,85.76 L457.90,82.86 L455.46,80.05 L452.91,77.32 L450.26,74.70 L447.49,72.19 L444.60,69.81 L441.56,67.58 L438.38,65.51 L435.05,63.63 L431.57,61.95 L427.94,60.48 L424.15,59.26 L420.20,58.28 L416.11,57.58 L411.88,57.15 L407.50,57.00Z" fill="#143fa0" fill-opacity="0.58"/>
<path d="M407.50,75.60 L411.22,75.74 L414.79,76.17 L418.20,76.86 L421.48,77.80 L424.63,78.99 L427.65,80.42 L430.56,82.06 L433.37,83.92 L436.07,85.98 L438.69,88.23 L441.21,90.66 L443.66,93.26 L446.03,96.01 L448.34,98.90 L450.58,101.93 L452.77,105.07 L454.90,108.32 L456.99,111.66 L459.04,115.08 L461.07,118.57 L463.06,122.11 L465.04,125.70 L467.01,129.31 L468.97,132.94 L470.94,136.57 L472.91,140.20 L474.90,143.80 L476.91,147.37 L478.96,150.89 L481.03,154.35 L483.16,157.74 L485.33,161.05 L487.56,164.26 L489.86,167.36 L492.23,170.34 L494.68,173.18 L497.22,175.88 L499.86,178.41 L502.60,180.77 L505.45,182.94 L508.42,184.91 L511.51,186.66 L514.74,188.18 L518.10,189.45 L521.60,190.46 L525.25,191.20 L529.05,191.65 L533.00,191.80 L533.00,189.00 L529.27,188.85 L525.70,188.42 L522.28,187.73 L518.99,186.78 L515.84,185.58 L512.82,184.15 L509.90,182.50 L507.10,180.63 L504.39,178.57 L501.77,176.31 L499.25,173.88 L496.80,171.28 L494.43,168.52 L492.13,165.62 L489.89,162.59 L487.71,159.45 L485.57,156.20 L483.49,152.85 L481.44,149.43 L479.42,145.94 L477.42,142.39 L475.45,138.81 L473.49,135.19 L471.53,131.56 L469.56,127.93 L467.59,124.30 L465.61,120.70 L463.60,117.12 L461.56,113.60 L459.49,110.14 L457.37,106.74 L455.20,103.43 L452.97,100.22 L450.67,97.11 L448.30,94.13 L445.85,91.29 L443.32,88.59 L440.68,86.05 L437.94,83.68 L435.09,81.51 L432.12,79.53 L429.02,77.78 L425.79,76.25 L422.43,74.97 L418.92,73.96 L415.26,73.21 L411.46,72.76 L407.50,72.60Z" fill="#ffb70d" fill-opacity="0.58"/>
<path d="M407.50,88.50 L410.72,88.63 L413.77,89.06 L416.70,89.77 L419.51,90.75 L422.24,92.00 L424.90,93.52 L427.50,95.31 L430.05,97.36 L432.54,99.67 L434.99,102.23 L437.37,105.03 L439.71,108.05 L442.00,111.28 L444.24,114.70 L446.43,118.30 L448.57,122.06 L450.68,125.97 L452.75,130.00 L454.80,134.15 L456.81,138.39 L458.81,142.70 L460.80,147.08 L462.78,151.51 L464.76,155.96 L466.74,160.43 L468.74,164.89 L470.75,169.34 L472.80,173.76 L474.88,178.13 L477.00,182.44 L479.17,186.67 L481.40,190.80 L483.70,194.83 L486.08,198.74 L488.54,202.51 L491.10,206.13 L493.77,209.59 L496.55,212.85 L499.47,215.92 L502.54,218.76 L505.75,221.36 L509.14,223.69 L512.69,225.73 L516.42,227.45 L520.33,228.82 L524.40,229.81 L528.63,230.41 L533.00,230.60 L533.00,219.60 L529.69,219.42 L526.55,218.94 L523.55,218.17 L520.67,217.12 L517.89,215.80 L515.19,214.21 L512.57,212.36 L510.01,210.24 L507.51,207.87 L505.08,205.26 L502.70,202.41 L500.38,199.35 L498.12,196.08 L495.91,192.62 L493.75,188.99 L491.63,185.20 L489.56,181.26 L487.52,177.21 L485.52,173.04 L483.53,168.78 L481.57,164.45 L479.63,160.05 L477.68,155.61 L475.74,151.14 L473.80,146.66 L471.84,142.17 L469.86,137.71 L467.85,133.27 L465.81,128.88 L463.72,124.55 L461.59,120.30 L459.39,116.14 L457.12,112.08 L454.78,108.14 L452.34,104.33 L449.80,100.67 L447.15,97.18 L444.38,93.86 L441.47,90.74 L438.40,87.84 L435.17,85.18 L431.77,82.78 L428.17,80.67 L424.39,78.88 L420.43,77.45 L416.28,76.39 L411.97,75.73 L407.50,75.50Z" fill="#ff500d" fill-opacity="0.58"/>
<path d="M407.50,90.30 L411.19,90.57 L414.74,91.36 L418.14,92.67 L421.43,94.46 L424.59,96.73 L427.65,99.45 L430.60,102.60 L433.44,106.17 L436.19,110.12 L438.84,114.44 L441.41,119.09 L443.89,124.07 L446.29,129.33 L448.62,134.86 L450.88,140.63 L453.09,146.62 L455.24,152.80 L457.34,159.15 L459.41,165.65 L461.44,172.27 L463.44,178.99 L465.42,185.78 L467.40,192.61 L469.36,199.48 L471.33,206.35 L473.30,213.19 L475.29,219.99 L477.29,226.72 L479.33,233.35 L481.40,239.87 L483.51,246.24 L485.67,252.45 L487.89,258.48 L490.17,264.29 L492.51,269.86 L494.94,275.18 L497.45,280.21 L500.05,284.94 L502.76,289.34 L505.57,293.39 L508.50,297.06 L511.56,300.32 L514.75,303.17 L518.09,305.55 L521.58,307.46 L525.22,308.86 L529.03,309.71 L533.00,310.00 L533.00,308.30 L529.28,308.02 L525.72,307.22 L522.30,305.90 L519.01,304.10 L515.83,301.82 L512.77,299.08 L509.82,295.92 L506.98,292.34 L504.23,288.38 L501.58,284.06 L499.02,279.39 L496.54,274.42 L494.15,269.15 L491.82,263.62 L489.56,257.84 L487.37,251.85 L485.22,245.66 L483.12,239.31 L481.06,232.81 L479.04,226.19 L477.04,219.47 L475.06,212.68 L473.10,205.84 L471.14,198.97 L469.18,192.10 L467.21,185.26 L465.23,178.46 L463.23,171.73 L461.20,165.09 L459.14,158.57 L457.03,152.19 L454.88,145.98 L452.67,139.95 L450.39,134.14 L448.05,128.56 L445.63,123.24 L443.12,118.20 L440.52,113.46 L437.82,109.06 L435.01,105.00 L432.08,101.33 L429.02,98.05 L425.83,95.19 L422.48,92.79 L418.98,90.87 L415.32,89.46 L411.49,88.60 L407.50,88.30Z" fill="#0dace6" fill-opacity="0.58"/>
<path d="M193.00,92.40 C226.50,92.40 226.50,55.30 260.00,55.30" fill="none" stroke="#8fd6ef" stroke-width="0.9" stroke-opacity="1"/>
<path d="M265.00,55.30 C399.00,55.30 399.00,309.00 533.00,309.00" fill="none" stroke="#8fd6ef" stroke-width="0.9" stroke-opacity="1"/>
<path d="M193.00,92.60 C226.50,92.60 226.50,79.80 260.00,79.80" fill="none" stroke="#f07040" stroke-width="1.4" stroke-opacity="1"/>
<path d="M265.00,79.80 C399.00,79.80 399.00,218.80 533.00,218.80" fill="none" stroke="#f07040" stroke-width="1.5" stroke-opacity="1"/>
<path d="M265.00,94.20 C333.75,94.20 333.75,68.50 402.50,68.50" fill="none" stroke="#606060" stroke-width="0.8" stroke-opacity="0.8"/>
<path d="M332.50,312.00 C367.50,312.00 367.50,91.00 402.50,91.00" fill="none" stroke="#b09080" stroke-width="0.8" stroke-opacity="0.55"/>
<path d="M332.50,305.00 C432.75,305.00 432.75,182.30 533.00,182.30" fill="none" stroke="#4a68b8" stroke-width="1.0" stroke-opacity="0.7"/>
<rect x="187.4" y="91.9" width="5.60" height="205.10" fill="#808080"/>
<rect x="259.5" y="93.7" width="5.50" height="67.00" fill="#0033a0"/>
<rect x="259.5" y="168.4" width="5.50" height="70.10" fill="#0a7d1e"/>
<rect x="259.5" y="243.7" width="5.50" height="29.90" fill="#e0208a"/>
<rect x="259.5" y="281.5" width="5.50" height="37.30" fill="#e0208a"/>
<rect x="327.7" y="166" width="4.80" height="69.70" fill="#0a7d1e"/>
<rect x="327.7" y="241" width="4.80" height="53.40" fill="#e0208a"/>
<rect x="327.7" y="302.5" width="4.80" height="16.30" fill="#e0102c"/>
<rect x="532.5" y="54.9" width="5.30" height="2.90" fill="#707070"/>
<rect x="533" y="75.7" width="5.00" height="44.50" fill="#0033a0"/>
<rect x="533" y="136.6" width="5.00" height="9.20" fill="#0033a0"/>
<rect x="533" y="156.2" width="5.00" height="26.40" fill="#0033a0"/>
<rect x="533" y="189.0" width="5.00" height="23.20" fill="#ffb000"/>
<rect x="533" y="218.0" width="5.00" height="40.30" fill="#ff5000"/>
<rect x="533" y="263.0" width="5.00" height="39.90" fill="#66b800"/>
<rect x="533" y="308.2" width="5.00" height="15.80" fill="#00a8e6"/>
<rect x="249.55" y="46.60" width="26.90" height="8.4" fill="#fff" fill-opacity="0.85"/>
<rect x="250.35" y="55.05" width="25.30" height="8.4" fill="#fff" fill-opacity="0.85"/>
<rect x="243.60" y="71.40" width="38.80" height="8.4" fill="#fff" fill-opacity="0.85"/>
<rect x="248.30" y="79.85" width="29.40" height="8.4" fill="#fff" fill-opacity="0.85"/>
<rect x="233.8" y="113.2" width="57.00" height="27.80" rx="1.2" fill="#fff" fill-opacity="0.62"/>
<rect x="236.8" y="189.4" width="51.40" height="28.10" rx="1.2" fill="#fff" fill-opacity="0.62"/>
<rect x="240" y="244.8" width="44.50" height="26.90" rx="1.2" fill="#fff" fill-opacity="0.62"/>
<rect x="238.7" y="282.7" width="45.80" height="34.80" rx="1.2" fill="#fff" fill-opacity="0.62"/>
<rect x="308.8" y="190.6" width="41.70" height="18.90" rx="1.2" fill="#fff" fill-opacity="0.62"/>
<rect x="309.7" y="257.4" width="41.60" height="19.60" rx="1.2" fill="#fff" fill-opacity="0.62"/>
<rect x="308.2" y="295.5" width="43.80" height="30.50" rx="1.2" fill="#fff" fill-opacity="0.62"/>
<rect x="377.9" y="55.9" width="55.10" height="35.10" rx="1.2" fill="#fff" fill-opacity="0.62"/>
<rect x="442.95" y="50.15" width="39.10" height="8.4" fill="#fff" fill-opacity="0.85"/>
<rect x="447.80" y="58.60" width="29.40" height="8.4" fill="#fff" fill-opacity="0.85"/>
<text font-family="Liberation Sans" font-size="7.35" fill="#262626" stroke="#262626" stroke-width="0.12" text-anchor="end"><tspan x="184.3" y="179.60">Patrimoine</tspan><tspan x="184.3" y="188.05">financier des</tspan><tspan x="184.3" y="196.50">ménages</tspan><tspan x="184.3" y="204.95">au T2 2025</tspan><tspan x="184.3" y="213.40">(6 596Md€)</tspan></text>
<text font-family="Liberation Sans" font-size="7.35" fill="#262626" stroke="#262626" stroke-width="0.12" text-anchor="middle"><tspan x="263" y="52.90">Dérivés</tspan><tspan x="263" y="61.35">(2Md€)</tspan></text>
<text font-family="Liberation Sans" font-size="7.35" fill="#262626" stroke="#262626" stroke-width="0.12" text-anchor="middle"><tspan x="263" y="77.70">Obligations</tspan><tspan x="263" y="86.15">(54Md€)</tspan></text>
<text font-family="Liberation Sans" font-size="7.35" fill="#262626" stroke="#262626" stroke-width="0.12" text-anchor="middle"><tspan x="262.5" y="121.40">Actions et parts</tspan><tspan x="262.5" y="129.85">de fonds</tspan><tspan x="262.5" y="138.30">(2 167Md€)</tspan></text>
<text font-family="Liberation Sans" font-size="7.35" fill="#262626" stroke="#262626" stroke-width="0.12" text-anchor="middle"><tspan x="262.5" y="197.50">Assurance vie</tspan><tspan x="262.5" y="205.95">et non vie</tspan><tspan x="262.5" y="214.40">(2 246Md€)</tspan></text>
<text font-family="Liberation Sans" font-size="7.35" fill="#262626" stroke="#262626" stroke-width="0.12" text-anchor="middle"><tspan x="262.5" y="252.50">Livrets</tspan><tspan x="262.5" y="260.95">réglementés</tspan><tspan x="262.5" y="269.40">(953Md€)</tspan></text>
<text font-family="Liberation Sans" font-size="7.35" fill="#262626" stroke="#262626" stroke-width="0.12" text-anchor="middle"><tspan x="262.5" y="290.60">Dépôts à vue</tspan><tspan x="262.5" y="299.05">et comptes</tspan><tspan x="262.5" y="307.50">à terme</tspan><tspan x="262.5" y="315.95">(1 174Md€)</tspan></text>
<text font-family="Liberation Sans" font-size="7.35" fill="#262626" stroke="#262626" stroke-width="0.12" text-anchor="middle"><tspan x="330" y="199.10">Assureurs</tspan><tspan x="330" y="207.55">(2 246Md€)</tspan></text>
<text font-family="Liberation Sans" font-size="7.35" fill="#262626" stroke="#262626" stroke-width="0.12" text-anchor="middle"><tspan x="330" y="265.80">Banques</tspan><tspan x="330" y="274.25">(1 728Md€)</tspan></text>
<text font-family="Liberation Sans" font-size="7.35" fill="#262626" stroke="#262626" stroke-width="0.12" text-anchor="middle"><tspan x="330" y="306.00">CDC Fonds</tspan><tspan x="330" y="314.45">d'épargne</tspan><tspan x="330" y="322.90">(399Md€)</tspan></text>
<text font-family="Liberation Sans" font-size="7.35" fill="#262626" stroke="#262626" stroke-width="0.12" text-anchor="middle"><tspan x="405.5" y="63.00">Organismes de</tspan><tspan x="405.5" y="71.45">placement</tspan><tspan x="405.5" y="79.90">collectif</tspan><tspan x="405.5" y="88.35">(1 161Md€)</tspan></text>
<text font-family="Liberation Sans" font-size="7.35" fill="#262626" stroke="#262626" stroke-width="0.12" text-anchor="middle"><tspan x="462.5" y="48.00">Fonds</tspan><tspan x="462.5" y="56.45">immobiliers</tspan><tspan x="462.5" y="64.90">(98Md€)</tspan></text>
<text font-family="Liberation Sans" font-size="7.35" fill="#262626" stroke="#262626" stroke-width="0.12" text-anchor="start"><tspan x="541" y="54.30">Actifs immobiliers</tspan><tspan x="541" y="62.75">(98Md€)</tspan></text>
<text font-family="Liberation Sans" font-size="7.35" fill="#262626" stroke="#262626" stroke-width="0.12" text-anchor="start"><tspan x="541" y="83.30">Actions non</tspan><tspan x="541" y="91.75">cotées et autres</tspan><tspan x="541" y="100.20">participations</tspan><tspan x="541" y="108.65">des ménages (1)</tspan><tspan x="541" y="117.10">(1 433Md€)</tspan></text>
<text font-family="Liberation Sans" font-size="7.35" fill="#262626" stroke="#262626" stroke-width="0.12" text-anchor="start"><tspan x="541" y="134.90">Actions cotées</tspan><tspan x="541" y="143.35">des ménages (2)</tspan><tspan x="541" y="151.80">(310Md€)</tspan></text>
<text font-family="Liberation Sans" font-size="7.35" fill="#262626" stroke="#262626" stroke-width="0.12" text-anchor="start"><tspan x="541" y="167.60">Actions via IF (3)</tspan><tspan x="541" y="176.05">(874Md€)</tspan></text>
<text font-family="Liberation Sans" font-size="7.35" fill="#262626" stroke="#262626" stroke-width="0.12" text-anchor="start"><tspan x="541" y="189.80">Obligations des</tspan><tspan x="541" y="198.25">administrations</tspan><tspan x="541" y="206.70">publiques</tspan><tspan x="541" y="215.15">(752Md€)</tspan></text>
<text font-family="Liberation Sans" font-size="7.35" fill="#262626" stroke="#262626" stroke-width="0.12" text-anchor="start"><tspan x="541" y="232.00">Autres</tspan><tspan x="541" y="240.45">obligations</tspan><tspan x="541" y="248.90">(1 324Md€)</tspan></text>
<text font-family="Liberation Sans" font-size="7.35" fill="#262626" stroke="#262626" stroke-width="0.12" text-anchor="start"><tspan x="541" y="280.80">Prêts</tspan><tspan x="541" y="289.25">(1 292Md€)</tspan></text>
<text font-family="Liberation Sans" font-size="7.35" fill="#262626" stroke="#262626" stroke-width="0.12" text-anchor="start"><tspan x="541" y="314.50">Autres</tspan><tspan x="541" y="322.95">(513Md€)</tspan></text>
</svg>
<div class="t" style="top:4.6px;left:8.2px">Mise en transparence du patrimoine financier<br>des ménages français</div>
<div class="note" style="top:328.6px"><i>Source : DG Trésor.</i><br>Note : Les modes de détention de titres de propriété d'entreprises par ménages sont<br>hétérogènes (<i>cf.</i> Encadré 1). (1) renvoie principalement au patrimoine professionnel,<br>(2) correspond aux comptes titres ordinaires (CTO) et aux plans d'épargne en actions<br>(PEA) et (3) regroupe les actions cotées ou non cotées détenues via les intermédiaires<br><span style="word-spacing:-0.72px">financiers. L'actif des intermédiaires financiers (IF) et en particulier celui des banques n'est</span><br><span style="word-spacing:-0.5px">présenté que partiellement, à concurrence du poids des placements des ménages dans le</span><br>passif des IF (<i>cf.</i> Encadré 2 sur la méthodologie).</div>
</body></html>
